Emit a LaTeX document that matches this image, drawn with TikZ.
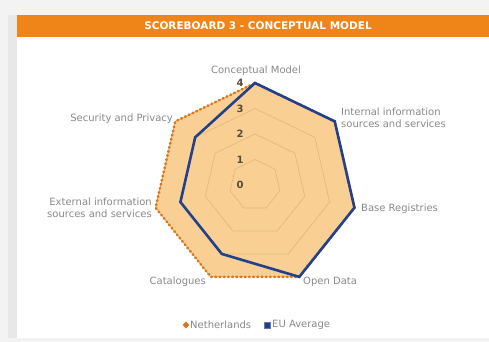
\documentclass[tikz,border=0pt]{standalone}
\usepackage{fontspec}
\setmainfont{DejaVu Sans}
\usetikzlibrary{positioning,shapes.geometric}
\definecolor{barorange}{HTML}{EF8419}
\definecolor{nlfill}{HTML}{F9CF94}
\definecolor{nlline}{HTML}{DC7618}
\definecolor{eublue}{HTML}{22408C}
\definecolor{gridtan}{HTML}{E2B97F}
\definecolor{labelgray}{HTML}{8A8A8A}
\definecolor{numbrown}{HTML}{5A4A38}
\definecolor{panelgray}{HTML}{F3F3F3}

\begin{document}
\begin{tikzpicture}[x=1pt,y=1pt]
\tikzstyle{every node}+=[inner sep=0pt]
\tikzstyle{axislabel}=[text=labelgray,font=\fontsize{10}{11.5}\selectfont]
\tikzstyle{levellabel}=[text=numbrown,font=\fontsize{10}{11}\selectfont\bfseries]
\tikzstyle{legendtext}=[text=labelgray,font=\fontsize{10}{11}\selectfont,anchor=west]
% background and panel
\fill [panelgray] (0,0) rectangle (489,342);
\fill [black!9] (8,4) rectangle (17,327);
\fill [white] (17,4) rectangle (489,327);
\fill [barorange] (17,305) rectangle (489,327);
\node [text=white,font=\fontsize{10.5}{12}\selectfont\bfseries] (title) at (258,316) {SCOREBOARD 3 - CONCEPTUAL MODEL};
\useasboundingbox (0,0) rectangle (489,342);
% chart
\coordinate (o) at (255,157);
\begin{scope}[shift={(o)}]
% Netherlands
\fill [nlfill] (90:102) \foreach \k in {1,...,6} {-- ({90-\k*360/7}:102)} -- cycle;
% grid
\foreach \lvl in {1,2,3,4}
  \draw [gridtan,line width=0.7pt] (90:\lvl*25.5) \foreach \k in {1,...,6} {-- ({90-\k*360/7}:\lvl*25.5)} -- cycle;
\draw [nlline,line width=2.6pt,line cap=round,dash pattern=on 0.8pt off 3.4pt] (90:102) \foreach \k in {1,...,6} {-- ({90-\k*360/7}:102)} -- cycle;
% EU Average
\draw [eublue,line width=2.6pt,line join=miter] (90:102) -- ({90-360/7}:102) -- ({90-2*360/7}:102) -- ({90-3*360/7}:102)
  -- ({90-4*360/7}:76.5) -- ({90-5*360/7}:76.5) -- ({90-6*360/7}:76.5) -- cycle;
\end{scope}
% level numbers
\foreach \lvl in {0,...,4}
  \node [levellabel] (lv\lvl) at (240,157+\lvl*25.5) {\lvl};
% axis labels
\node [axislabel] (cm) at (256,271) {Conceptual Model};
\node [axislabel,anchor=west,align=left] (iis) at (341,224) {Internal information\\sources and services};
\node [axislabel,anchor=west] (br) at (361,133) {Base Registries};
\node [axislabel,anchor=west] (od) at (303,60) {Open Data};
\node [axislabel,anchor=east] (cat) at (206,60) {Catalogues};
\node [axislabel,anchor=east,align=right] (eis) at (152,134) {External information\\sources and services};
\node [axislabel,anchor=east] (sp) at (173,223) {Security and Privacy};
% legend
\node [fill=nlline,diamond,minimum size=7pt] (nlmark) at (186,17) {};
\node [legendtext] (nltext) at (190,17) {Netherlands};
\node [fill=eublue,minimum size=6pt,draw=eublue!70] (eumark) at (267.5,17) {};
\node [legendtext] (eutext) at (272,17) {EU Average};
\end{tikzpicture}
\end{document}
